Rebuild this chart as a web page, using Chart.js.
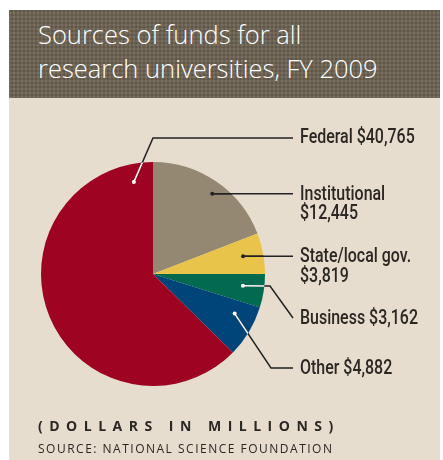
<!DOCTYPE html>
<html>
<head>
<meta charset="utf-8">
<script src="https://cdn.jsdelivr.net/npm/chart.js@4/dist/chart.umd.min.js"></script>
<style>
  html, body { margin: 0; padding: 0; background: #fff; }
  #wrap { position: relative; width: 443px; height: 460px; overflow: hidden; }
  #panel { position: absolute; left: 9px; top: 10px; right: 3px; bottom: 0; background: #e6ddcf; }
  #head {
    position: absolute; left: 9px; top: 10px; right: 3px; height: 88px;
    background-color: #6b6151;
    background-image:
      repeating-linear-gradient(90deg, rgba(255,255,255,0.05) 0 2px, rgba(0,0,0,0.05) 2px 4px),
      repeating-linear-gradient(0deg, rgba(255,255,255,0.04) 0 2px, rgba(0,0,0,0.06) 2px 4px);
  }
  #title {
    position: absolute; left: 38px; top: 17px; color: #fff;
    font-family: "Open Sans", "DejaVu Sans", sans-serif; font-weight: 300;
    font-size: 25.5px; line-height: 34px;
  }
  #unit {
    position: absolute; left: 38px; top: 416px; color: #2b2722;
    font-family: "Open Sans", "DejaVu Sans", sans-serif; font-weight: 700;
    font-size: 14px; letter-spacing: 6.5px; white-space: nowrap;
  }
  #src {
    position: absolute; left: 38px; top: 440px; color: #2b2722;
    font-family: "Open Sans", "DejaVu Sans", sans-serif; font-weight: 400;
    font-size: 12px; letter-spacing: 1.5px; white-space: nowrap;
  }
  #c { position: absolute; left: 0; top: 0; }
</style>
</head>
<body>
<div id="wrap">
  <div id="panel"></div>
  <div id="head"></div>
  <div id="title">Sources of funds for all<br>research universities, FY 2009</div>
  <canvas id="c" width="443" height="460"></canvas>
  <div id="unit">(DOLLARS IN MILLIONS)</div>
  <div id="src">SOURCE: NATIONAL SCIENCE FOUNDATION</div>
</div>
<script>
// 단위: 백만 달러
const categories = ['Institutional', 'State/local gov.', 'Business', 'Other', 'Federal'];
const funds = [12445, 3819, 3162, 4882, 40765];
const sliceColors = ['#958872', '#e8c44a', '#016a4f', '#00457a', '#9e0421'];

// 콜아웃 선 (슬라이스 순서대로)
const callouts = [
  { frac: 0.53, depth: 0.89, path: [], textY: [195, 214], split: true, inner: '#222' },
  { frac: 0.47, depth: 0.82, path: [], textY: [257, 277], split: true, inner: '#222' },
  { frac: 0.43, depth: 0.81, path: [[270, 286], [293, 318]], textY: [319], split: false, inner: '#fff' },
  { frac: 0.31, depth: 0.81, path: [[271, 368]], textY: [369], split: false, inner: '#fff' },
  { frac: 0.948, depth: 0.84, path: [[153, 138]], textY: [138], split: false, inner: '#fff' }
];

function money(v){
	return '$' + v.toLocaleString('en-US');
}

const calloutPlugin = {
	id: 'callouts',
	afterDatasetsDraw(chart){
		const ctx = chart.ctx;
		const arcs = chart.getDatasetMeta(0).data;
		ctx.save();
		arcs.forEach(function(arc, i){
			const c = callouts[i];
			const p = arc.getProps(['x', 'y', 'startAngle', 'endAngle', 'outerRadius'], true);
			const a = p.startAngle + c.frac * (p.endAngle - p.startAngle);
			const dx = p.x + Math.cos(a) * p.outerRadius * c.depth;
			const dy = p.y + Math.sin(a) * p.outerRadius * c.depth;
			const pts = [[dx, dy]].concat(c.path);
			const last = pts[pts.length - 1];
			pts.push([293, last[1]]);

			const stroke = function(color){
				ctx.beginPath();
				ctx.moveTo(pts[0][0], pts[0][1]);
				for (let k = 1; k < pts.length; k++) ctx.lineTo(pts[k][0], pts[k][1]);
				ctx.strokeStyle = color;
				ctx.lineWidth = 1.5;
				ctx.stroke();
			};
			stroke('#222');
			ctx.save();
			ctx.beginPath();
			ctx.arc(p.x, p.y, p.outerRadius, 0, Math.PI * 2);
			ctx.clip();
			stroke(c.inner);
			ctx.beginPath();
			ctx.arc(dx, dy, 2, 0, Math.PI * 2);
			ctx.fillStyle = c.inner;
			ctx.fill();
			ctx.restore();

			// 라벨 (좁은 글꼴 대신 가로로 눌러서 그림)
			const lines = c.split ? [categories[i], money(funds[i])] : [categories[i] + ' ' + money(funds[i])];
			ctx.save();
			ctx.translate(300, 0);
			ctx.scale(0.76, 1);
			ctx.fillStyle = '#2b2722';
			ctx.font = '500 21px Roboto, "DejaVu Sans", sans-serif';
			ctx.textBaseline = 'middle';
			ctx.textAlign = 'left';
			lines.forEach(function(t, k){ ctx.fillText(t, 0, c.textY[k]); });
			ctx.restore();
		});
		ctx.restore();
	}
};

document.addEventListener("DOMContentLoaded", function(){
	new Chart('c', {
		type: 'pie',
		data: {
			labels: categories,
			datasets: [{
				data: funds,
				backgroundColor: sliceColors,
				borderWidth: 0
			}]
		},
		options: {
			responsive: false,
			animation: false,
			layout: { padding: { left: 41, top: 162, right: 178, bottom: 74 } },
			plugins: { legend: { display: false }, tooltip: { enabled: false } }
		},
		plugins: [calloutPlugin]
	});
});
</script>
</body>
</html>
